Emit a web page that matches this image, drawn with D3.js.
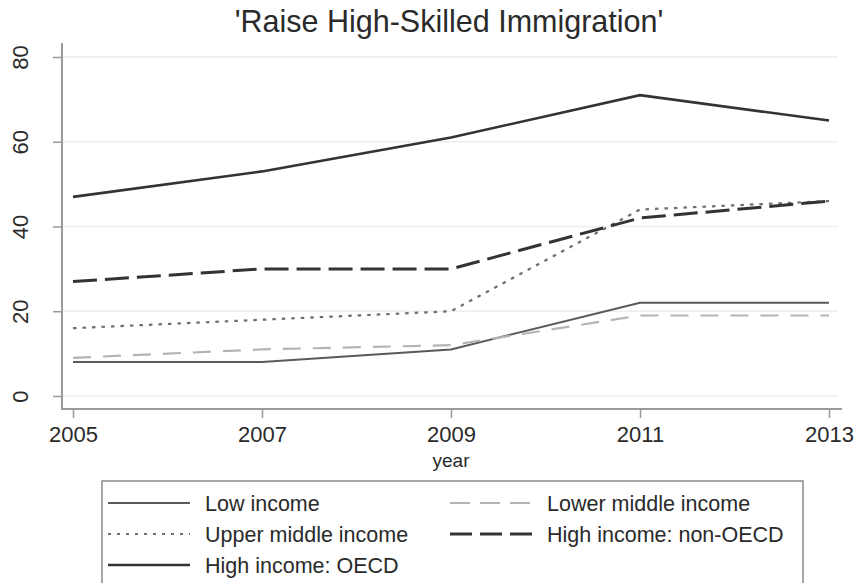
<!DOCTYPE html>
<html>
<head>
<meta charset="utf-8">
<script src="https://d3js.org/d3.v7.min.js"></script>
<style>
  body { margin: 0; background: #fff; }
  text { font-family: "Liberation Sans", Arial, sans-serif; fill: #2a2a2a; }
</style>
</head>
<body>
<div id="chart"></div>
<script>
// data
var years = [2005, 2007, 2009, 2011, 2013];
var lowIncome = [8, 8, 11, 22, 22];
var lowerMiddle = [9, 11, 12, 19, 19];
var upperMiddle = [16, 18, 20, 44, 46];
var highNonOECD = [27, 30, 30, 42, 46];
var highOECD = [47, 53, 61, 71, 65];
var yTicks = [0, 20, 40, 60, 80];
var seriesNames = ["Low income", "Lower middle income", "Upper middle income", "High income: non-OECD", "High income: OECD"];

var width = 860, height = 583;

var svg = d3.select('#chart').append('svg')
  .attr('width', width)
  .attr('height', height);

var x = d3.scaleLinear().domain([2005, 2013]).range([73, 829]);
var y = d3.scaleLinear().domain([0, 80]).range([396, 57]);

// styles for each series
var styles = [
  {color: '#5a5a5a', width: 2, dash: null},
  {color: '#b4b4b4', width: 2.2, dash: '18,12'},
  {color: '#6e6e6e', width: 2.2, dash: '3.5,6'},
  {color: '#333', width: 3, dash: '24,8'},
  {color: '#333', width: 2.6, dash: null}
];
var series = [lowIncome, lowerMiddle, upperMiddle, highNonOECD, highOECD];

// gridlines
svg.selectAll('line.grid')
  .data(yTicks)
  .enter()
  .append('line')
  .attr('class', 'grid')
  .attr('x1', 63).attr('x2', 838)
  .attr('y1', d => y(d)).attr('y2', d => y(d))
  .attr('stroke', '#eeeeee')
  .attr('stroke-width', 1.5);

// axes
var yAxis = d3.axisLeft(y).tickValues(yTicks).tickSize(9);
var gy = svg.append('g').attr('transform', 'translate(62,0)').call(yAxis);
gy.select('.domain').attr('d', 'M0,43V409').attr('stroke', '#9a9a9a').attr('stroke-width', 2);
gy.selectAll('.tick line').attr('stroke', '#9a9a9a').attr('stroke-width', 1.5);
gy.selectAll('.tick text')
  .attr('font-size', 22)
  .attr('x', 0)
  .attr('y', 0)
  .attr('dy', '0.36em')
  .attr('text-anchor', 'middle')
  .attr('fill', '#2a2a2a')
  .attr('transform', 'translate(-42,0) rotate(-90)');

var xAxis = d3.axisBottom(x).tickValues(years).tickFormat(d3.format('d')).tickSize(9).tickPadding(8);
var gx = svg.append('g').attr('transform', 'translate(0,409)').call(xAxis);
gx.select('.domain').attr('d', 'M61,0H842').attr('stroke', '#9a9a9a').attr('stroke-width', 2);
gx.selectAll('.tick line').attr('stroke', '#9a9a9a').attr('stroke-width', 1.5);
gx.selectAll('.tick text').attr('font-size', 22).attr('fill', '#2a2a2a');

svg.append('text')
  .attr('x', x(2009)).attr('y', 467)
  .attr('text-anchor', 'middle')
  .attr('font-size', 19)
  .text('year');

// title
svg.append('text')
  .attr('x', 449).attr('y', 32)
  .attr('text-anchor', 'middle')
  .attr('font-size', 30.5)
  .text("'Raise High-Skilled Immigration'");

// lines
var line = d3.line()
  .x((d, i) => x(years[i]))
  .y(d => y(d));

svg.selectAll('path.series')
  .data(series)
  .enter()
  .append('path')
  .attr('class', 'series')
  .attr('d', d => line(d))
  .attr('fill', 'none')
  .attr('stroke', (d, i) => styles[i].color)
  .attr('stroke-width', (d, i) => styles[i].width)
  .attr('stroke-dasharray', (d, i) => styles[i].dash);

// legend
var legend = svg.append('g');
legend.append('rect')
  .attr('x', 102).attr('y', 481)
  .attr('width', 701).attr('height', 110)
  .attr('fill', '#fff')
  .attr('stroke', '#8a8a8a')
  .attr('stroke-width', 1.5);

var legendPos = [[0, 0], [1, 0], [0, 1], [1, 1], [0, 2]];
var legendDash = ['', '20,10', '3,6', '22,8', ''];
var items = legend.selectAll('g.item')
  .data(seriesNames)
  .enter()
  .append('g')
  .attr('class', 'item')
  .attr('transform', (d, i) => 'translate(' + (108 + legendPos[i][0] * 342) + ',' + (503 + legendPos[i][1] * 31) + ')');

items.append('line')
  .attr('x1', 0).attr('x2', 82)
  .attr('y1', 0).attr('y2', 0)
  .attr('stroke', (d, i) => styles[i].color)
  .attr('stroke-width', (d, i) => styles[i].width)
  .attr('stroke-dasharray', (d, i) => legendDash[i] || null);

items.append('text')
  .attr('x', 97).attr('y', 0)
  .attr('dy', '0.35em')
  .attr('font-size', 21.5)
  .text(d => d);
</script>
</body>
</html>
